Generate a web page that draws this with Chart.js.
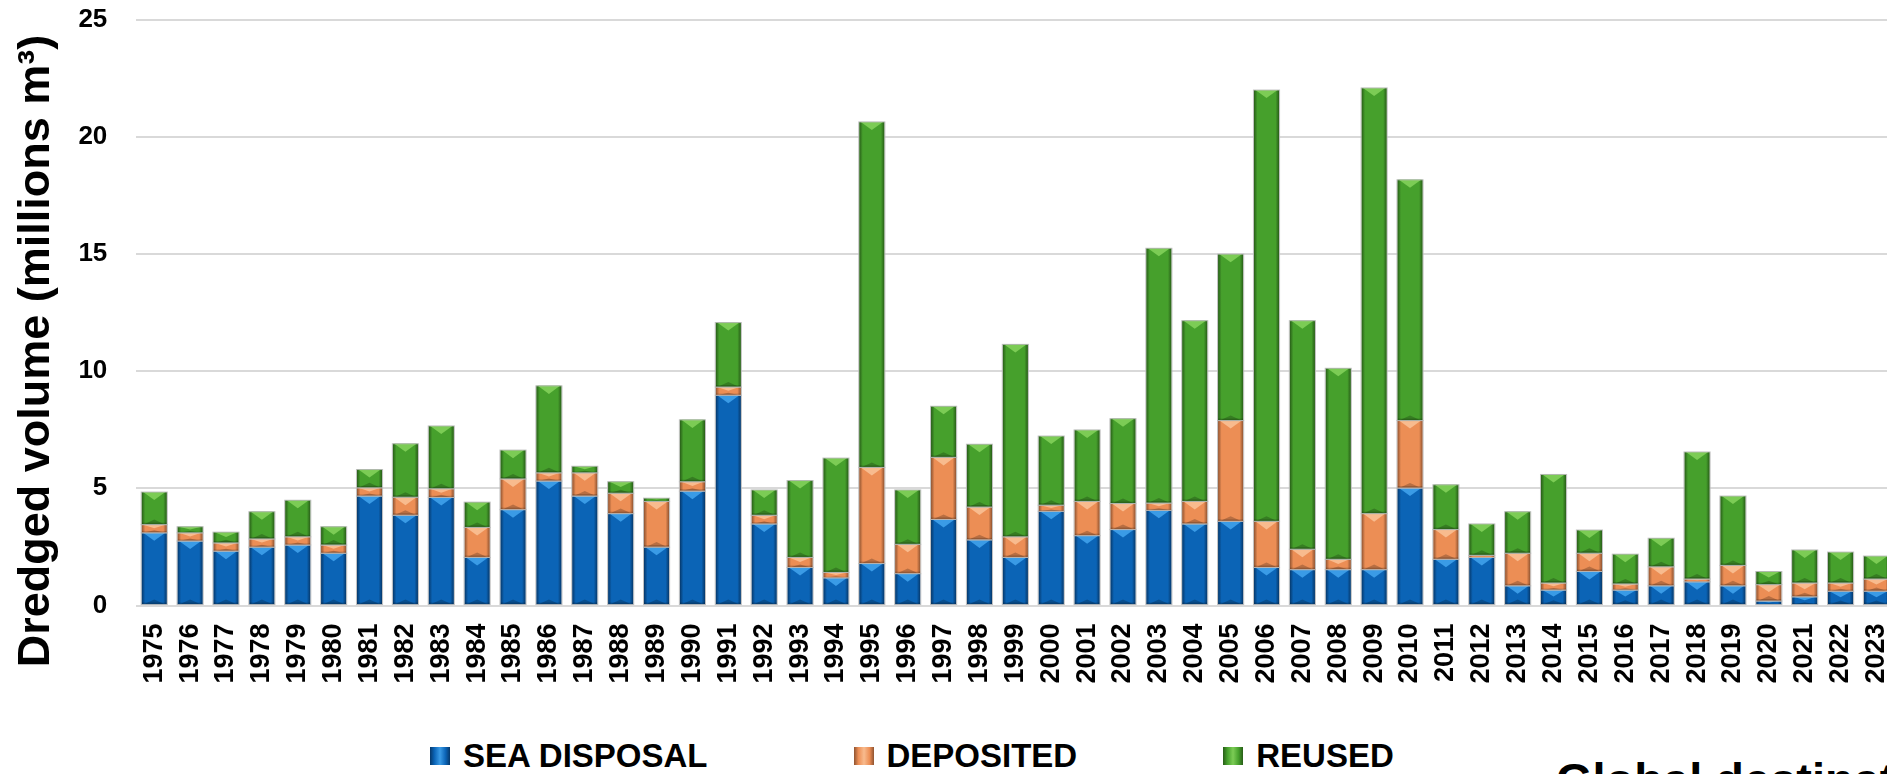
<!DOCTYPE html>
<html>
<head>
<meta charset="utf-8">
<script src="https://cdn.jsdelivr.net/npm/chart.js@4.4.1/dist/chart.umd.min.js"></script>
<style>
  html, body { margin: 0; padding: 0; width: 1887px; height: 774px; overflow: hidden; background: #fff; }
  body { position: relative; font-family: "Liberation Sans", Arial, sans-serif; }
  #wrap { position: absolute; left: 0; top: 0; width: 1896px; height: 700px; }
  #legend { position: absolute; left: 430px; top: 739px; display: flex; gap: 146px; }
  .item { display: flex; align-items: center; font-weight: bold; font-size: 33px; line-height: 33px; color: #000; white-space: nowrap; }
  .box { width: 20px; height: 18px; margin-right: 13px; }
  #bottomTitle { position: absolute; left: 1556px; top: 756px; font-weight: bold; font-size: 47px; line-height: 47px; white-space: nowrap; color: #000; }
</style>
</head>
<body>
<div id="wrap"><canvas id="dredge"></canvas></div>
<div id="legend"></div>
<div id="bottomTitle">Global destination of dredged material</div>
<script>
var years = ["1975","1976","1977","1978","1979","1980","1981","1982","1983","1984",
  "1985","1986","1987","1988","1989","1990","1991","1992","1993","1994",
  "1995","1996","1997","1998","1999","2000","2001","2002","2003","2004",
  "2005","2006","2007","2008","2009","2010","2011","2012","2013","2014",
  "2015","2016","2017","2018","2019","2020","2021","2022","2023"];

// millions m3
var seaDisposal = [3.10, 2.75, 2.32, 2.49, 2.58, 2.23, 4.67, 3.85, 4.61, 2.05,
  4.09, 5.31, 4.67, 3.92, 2.49, 4.88, 8.97, 3.48, 1.62, 1.18,
  1.79, 1.36, 3.67, 2.80, 2.05, 4.02, 2.98, 3.24, 4.06, 3.48,
  3.59, 1.62, 1.53, 1.53, 1.53, 5.01, 1.97, 2.05, 0.84, 0.66,
  1.45, 0.66, 0.84, 1.01, 0.84, 0.19, 0.37, 0.61, 0.61];
var deposited = [0.35, 0.35, 0.35, 0.35, 0.35, 0.35, 0.35, 0.77, 0.37, 1.28,
  1.31, 0.35, 0.99, 0.87, 1.95, 0.40, 0.35, 0.37, 0.43, 0.23,
  4.10, 1.25, 2.65, 1.40, 0.88, 0.26, 1.46, 1.11, 0.31, 0.96,
  4.30, 1.97, 0.87, 0.44, 2.39, 2.88, 1.27, 0.09, 1.39, 0.30,
  0.78, 0.26, 0.81, 0.12, 0.87, 0.70, 0.59, 0.35, 0.52];
var reused = [1.39, 0.26, 0.46, 1.16, 1.56, 0.78, 0.78, 2.28, 2.68, 1.08,
  1.23, 3.71, 0.28, 0.49, 0.14, 2.64, 2.75, 1.08, 3.28, 4.88,
  14.74, 2.32, 2.18, 2.68, 8.21, 2.95, 3.05, 3.62, 10.87, 7.71,
  7.10, 18.40, 9.75, 8.15, 18.16, 10.27, 1.91, 1.34, 1.77, 4.63,
  0.99, 1.27, 1.22, 5.42, 2.96, 0.56, 1.41, 1.32, 0.98];

var seriesNames = ["SEA DISPOSAL", "DEPOSITED", "REUSED"];

var bluePal = { main: "#0b64b6", light: "#3a9be6", dark: "#06386a" };
var orangePal = { main: "#ec8e55", light: "#f8bb8e", dark: "#8f5330" };
var greenPal = { main: "#46a02c", light: "#7ccc55", dark: "#285d18" };

Chart.defaults.font.family = '"Liberation Sans", Arial, sans-serif';
Chart.defaults.color = "#000";

// excel style bevel drawn over each stacked segment
var bevelPlugin = {
  id: "bevel",
  afterDatasetsDraw: function(chart) {
    var ctx = chart.ctx;
    chart.data.datasets.forEach(function(ds, i) {
      var meta = chart.getDatasetMeta(i);
      var pal = ds.palette;
      meta.data.forEach(function(bar) {
        var p = bar.getProps(["x", "y", "base", "width"], true);
        var left = p.x - p.width / 2, right = p.x + p.width / 2;
        var top = Math.min(p.y, p.base), h = Math.abs(p.base - p.y);
        if (h < 0.5) return;
        ctx.save();
        var g = ctx.createLinearGradient(left, 0, right, 0);
        g.addColorStop(0, pal.dark);
        g.addColorStop(0.14, pal.main);
        g.addColorStop(0.5, pal.main);
        g.addColorStop(0.86, pal.main);
        g.addColorStop(1, pal.dark);
        ctx.fillStyle = g;
        ctx.fillRect(left, top, p.width, h);
        var d = Math.min(p.width * 0.32, h * 0.45);
        ctx.beginPath();
        ctx.moveTo(left + 1.5, top);
        ctx.lineTo(right - 1.5, top);
        ctx.lineTo(p.x, top + d);
        ctx.closePath();
        ctx.fillStyle = pal.light;
        ctx.fill();
        var b = Math.min(p.width * 0.2, h * 0.3);
        ctx.beginPath();
        ctx.moveTo(left + 1.5, top + h);
        ctx.lineTo(right - 1.5, top + h);
        ctx.lineTo(p.x, top + h - b);
        ctx.closePath();
        ctx.fillStyle = "rgba(0,0,0,0.22)";
        ctx.fill();
        ctx.fillStyle = "rgba(0,0,0,0.18)";
        ctx.fillRect(left, top + h - Math.min(2, h * 0.2), p.width, Math.min(2, h * 0.2));
        ctx.strokeStyle = "rgba(185,185,185,0.9)";
        ctx.lineWidth = 1;
        ctx.strokeRect(left - 0.5, top, p.width + 1, h);
        ctx.restore();
      });
    });
  }
};

var yTitlePlugin = {
  id: "yTitle",
  afterDraw: function(chart, args, opts) {
    var ctx = chart.ctx;
    ctx.save();
    ctx.translate(opts.x, opts.y);
    ctx.rotate(-Math.PI / 2);
    ctx.font = 'bold 45px "Liberation Sans", Arial, sans-serif';
    ctx.fillStyle = "#000";
    ctx.textAlign = "center";
    ctx.textBaseline = "alphabetic";
    ctx.fillText(opts.text, 0, 0);
    ctx.restore();
  }
};

var barData = {
  labels: years,
  datasets: [
    { label: seriesNames[0], data: seaDisposal, backgroundColor: bluePal.main, palette: bluePal },
    { label: seriesNames[1], data: deposited, backgroundColor: orangePal.main, palette: orangePal },
    { label: seriesNames[2], data: reused, backgroundColor: greenPal.main, palette: greenPal }
  ]
};

var chartOptions = {
  responsive: true,
  maintainAspectRatio: false,
  animation: false,
  barPercentage: 0.7,
  categoryPercentage: 1,
  layout: { padding: { top: 19.5, right: 1.6, left: 0, bottom: 0 } },
  plugins: {
    legend: { display: false },
    tooltip: { enabled: false },
    yTitle: { text: "Dredged volume (millions m\u00b3)", x: 48.5, y: 351 }
  },
  scales: {
    x: {
      stacked: true,
      grid: { display: false, drawTicks: false },
      border: { display: false },
      ticks: {
        autoSkip: false, minRotation: 90, maxRotation: 90, padding: 18,
        font: { size: 27, weight: "bold" }, color: "#000"
      },
      afterFit: function(s) { s.height = 94.5; s.paddingLeft = 0; s.paddingRight = 0; }
    },
    y: {
      stacked: true,
      min: 0, max: 25,
      grid: { color: "#d9d9d9", lineWidth: 2, drawTicks: false },
      border: { display: false },
      ticks: { stepSize: 5, padding: 29, font: { size: 26, weight: "bold" }, color: "#000" },
      afterFit: function(s) { s.width = 136.3; s.paddingTop = 0; s.paddingBottom = 0; }
    }
  }
};

var ctx = document.getElementById("dredge").getContext("2d");
var myBar = new Chart(ctx, {
  type: "bar",
  data: barData,
  options: chartOptions,
  plugins: [bevelPlugin, yTitlePlugin]
});

// html legend from the chart's datasets
var legendBox = document.getElementById("legend");
myBar.data.datasets.forEach(function(ds) {
  var p = ds.palette;
  var item = document.createElement("div");
  item.className = "item";
  var sw = document.createElement("span");
  sw.className = "box";
  sw.style.background = "linear-gradient(90deg," + p.dark + " 0%," + p.main + " 22%," + p.light + " 50%," + p.main + " 78%," + p.dark + " 100%)";
  var txt = document.createElement("span");
  txt.textContent = ds.label;
  item.appendChild(sw);
  item.appendChild(txt);
  legendBox.appendChild(item);
});
</script>
</body>
</html>
